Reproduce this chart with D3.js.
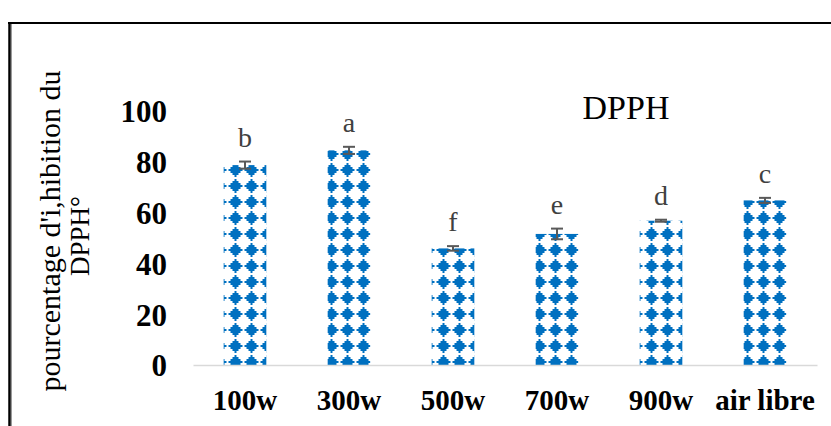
<!DOCTYPE html>
<html><head><meta charset="utf-8">
<script src="https://cdn.jsdelivr.net/npm/d3@7"></script>
<style>body{margin:0;background:#fff}</style>
</head><body><svg id="c" width="831" height="426"></svg>
<script>
const categories = ["100w","300w","500w","700w","900w","air libre"];
const values = [78.7, 84.5, 45.9, 51.6, 56.8, 64.8];
const errors = [1.4, 1.4, 0.9, 2.1, 0.4, 1.0];
const letters = ["b","a","f","e","d","c"];
const yTicks = [0,20,40,60,80,100];
const chartTitle = "DPPH";
const yTitle = ["pourcentage d'i,hibition du","DPPH°"];

const serif = "'Liberation Serif','Times New Roman',serif";
const svg = d3.select("#c");
svg.append("rect").attr("width",831).attr("height",426).attr("fill","#fff");

// frame
svg.append("line").attr("x1",8).attr("x2",831).attr("y1",23).attr("y2",23).attr("stroke","#000").attr("stroke-width",2);
svg.append("line").attr("x1",9.5).attr("x2",9.5).attr("y1",22).attr("y2",426).attr("stroke","#000").attr("stroke-width",2.5);
svg.append("line").attr("x1",11.5).attr("x2",11.5).attr("y1",24).attr("y2",426).attr("stroke","#9a9a9a").attr("stroke-width",1);

// pattern
const defs = svg.append("defs");
const pat = defs.append("pattern").attr("id","dmd").attr("patternUnits","userSpaceOnUse")
  .attr("width",16).attr("height",16).attr("x",3.5).attr("y",2);
for (let k=-3;k<=3;k++){
  const hw = 7-2*Math.abs(k);
  pat.append("rect").attr("x",8-hw).attr("y",8+2*k-1).attr("width",2*hw).attr("height",2).attr("fill","#0070C0");
}

const x = d3.scaleBand().domain(categories).range([193,817]).paddingInner(0.59).paddingOuter(0.295);
const y = d3.scaleLinear().domain([0,100]).range([365,111]);

// bars
svg.append("g").selectAll("rect").data(categories).join("rect")
  .attr("x",d=>x(d)).attr("width",x.bandwidth())
  .attr("y",(d,i)=>y(values[i])).attr("height",(d,i)=>y(0)-y(values[i]))
  .attr("fill","url(#dmd)");

// x axis
const xa = svg.append("g").attr("transform","translate(0,365)")
  .call(d3.axisBottom(x).tickSize(0).tickPadding(24.4));
xa.select(".domain").attr("stroke","#d9d9d9").attr("stroke-width",1.5);
xa.selectAll("text").attr("font-family",serif).attr("font-size",29).attr("font-weight","bold").attr("fill","#000");

// y axis
const ya = svg.append("g").attr("transform","translate(193,0)")
  .call(d3.axisLeft(y).tickValues(yTicks).tickSize(0).tickPadding(26));
ya.select(".domain").remove();
ya.selectAll("text").attr("font-family",serif).attr("font-size",31).attr("font-weight","bold").attr("fill","#000").attr("y",1);

// error bars
const eb = svg.append("g").attr("stroke","#595959").attr("stroke-width",2);
categories.forEach((c,i)=>{
  const cx = x(c)+x.bandwidth()/2;
  const t = y(values[i]+errors[i]), b = y(values[i]-errors[i]);
  eb.append("line").attr("x1",cx).attr("x2",cx).attr("y1",t).attr("y2",b);
  eb.append("line").attr("x1",cx-6).attr("x2",cx+6).attr("y1",t).attr("y2",t);
  eb.append("line").attr("x1",cx-6).attr("x2",cx+6).attr("y1",b).attr("y2",b);
});

// letters
svg.append("g").selectAll("text").data(categories).join("text")
  .attr("x",d=>x(d)+x.bandwidth()/2)
  .attr("y",(d,i)=>y(values[i]+errors[i])-15)
  .attr("text-anchor","middle").attr("font-family",serif).attr("font-size",28).attr("fill","#404040")
  .text((d,i)=>letters[i]);

// title
svg.append("text").attr("x",626).attr("y",119).attr("text-anchor","middle")
  .attr("font-family",serif).attr("font-size",34).attr("fill","#000").text(chartTitle);

// y title
svg.append("text").attr("transform","translate(60,231) rotate(-90)").attr("text-anchor","middle")
  .attr("font-family",serif).attr("font-size",30).attr("fill","#000").text(yTitle[0]);
svg.append("text").attr("transform","translate(89,236) rotate(-90)").attr("text-anchor","middle")
  .attr("font-family",serif).attr("font-size",27).attr("fill","#000").text(yTitle[1]);
</script></body></html>
